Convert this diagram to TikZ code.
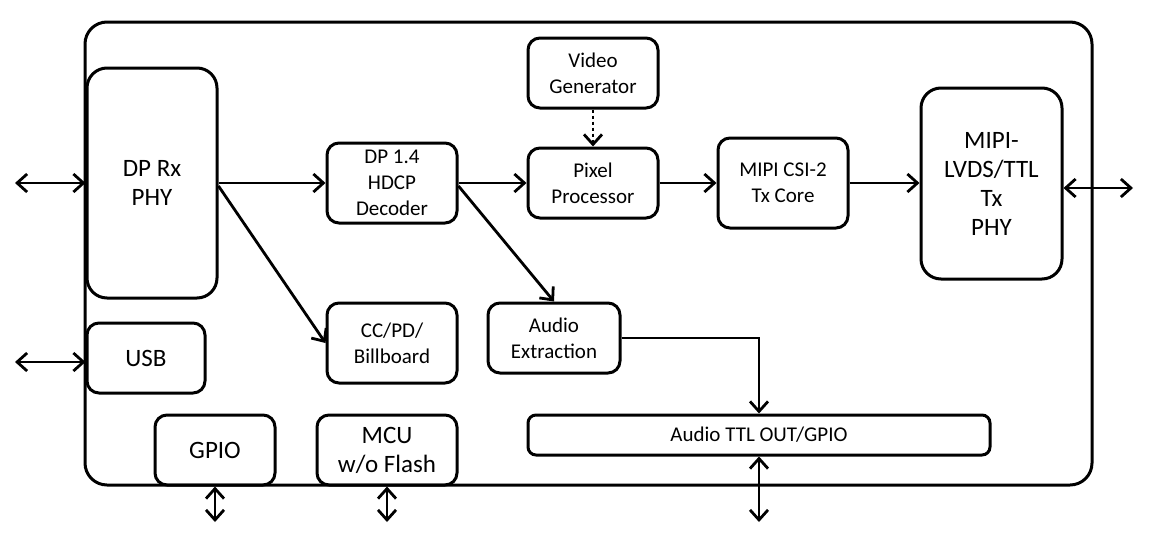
\documentclass[tikz,border=0pt]{standalone}
\usepackage{fontspec}
\setmainfont{Carlito}
\usetikzlibrary{arrows.meta}
\tikzset{
  blk/.style={draw=black, line width=3pt, rounded corners=12pt, align=center,
    inner sep=0pt, font=\fontsize{21}{26}\selectfont},
  bigblk/.style={blk, rounded corners=20pt, font=\fontsize{25}{29}\selectfont},
  conn/.style={line width=2.8pt, -{Straight Barb[length=10pt,width=18pt,line width=2.8pt]}},
  dbl/.style={line width=2.8pt, {Straight Barb[length=10pt,width=18pt,line width=2.8pt]}-{Straight Barb[length=10pt,width=18pt,line width=2.8pt]}},
  dotconn/.style={conn, dash pattern=on 3pt off 3pt}
}
\begin{document}
\begin{tikzpicture}[x=1pt,y=-1pt]
\useasboundingbox (0,0) rectangle (1150,541);
% outer chip boundary
\draw[line width=3pt, rounded corners=22pt] (85,22) rectangle (1092,485);
% blocks
\node[bigblk, minimum width=130pt, minimum height=230pt] (dprx) at (152,183) {DP Rx\\PHY};
\node[blk, minimum width=130pt, minimum height=80pt] (dec) at (392,183) {DP 1.4\\HDCP\\Decoder};
\node[blk, minimum width=130pt, minimum height=70pt] (vgen) at (593,73) {Video\\Generator};
\node[blk, minimum width=130pt, minimum height=70pt] (pix) at (593,183) {Pixel\\Processor};
\node[blk, minimum width=130pt, minimum height=90pt] (csi) at (783,183) {MIPI CSI-2\\Tx Core};
\node[bigblk, minimum width=141pt, minimum height=191pt] (phy) at (991.5,183.5) {MIPI-\\LVDS/TTL\\Tx\\PHY};
\node[blk, minimum width=130pt, minimum height=80pt] (cc) at (392,343) {CC/PD/\\Billboard};
\node[blk, minimum width=132pt, minimum height=70pt] (ae) at (554,338) {Audio\\Extraction};
\node[bigblk, rounded corners=12pt, minimum width=118pt, minimum height=70pt] (usb) at (146,358) {USB};
\node[bigblk, rounded corners=12pt, minimum width=120pt, minimum height=70pt] (gpio) at (215,450) {GPIO};
\node[bigblk, rounded corners=12pt, minimum width=140pt, minimum height=70pt] (mcu) at (387,450) {MCU\\w/o Flash};
\node[blk, rounded corners=8pt, minimum width=462pt, minimum height=40pt, font=\fontsize{21}{25}\selectfont] (attl) at (759,435) {Audio TTL OUT/GPIO};
% free ends
\coordinate (inL) at (15,183);
\coordinate (usbL) at (15,362);
\coordinate (outR) at (1133,188);
\coordinate (gpioB) at (215,522);
\coordinate (mcuB) at (387,522);
\coordinate (attlB) at (759,522);
% connectors
\draw[dbl] (inL) -- (dprx.west |- inL);
\draw[dbl] (usbL) -- (usb.west |- usbL);
\draw[dbl] (phy.east |- outR) -- (outR);
\draw[dbl] (gpio.south) -- (gpioB);
\draw[dbl] (mcu.south) -- (mcuB);
\draw[dbl] (attl.south) -- (attlB);
\draw[conn] (dprx.east) -- (dec.west);
\draw[conn] (dec.east) -- (pix.west);
\draw[conn] (pix.east) -- (csi.west);
\draw[conn] (csi.east) -- (phy.west |- csi.east);
\draw[conn] ([yshift=-3pt]dprx.east) -- (cc.west);
\draw[conn] ([yshift=-3pt]dec.east) -- (ae.north);
\draw[dotconn] (vgen.south) -- (pix.north);
\draw[conn] (ae.east) -| (attl.north);
\end{tikzpicture}
\end{document}
